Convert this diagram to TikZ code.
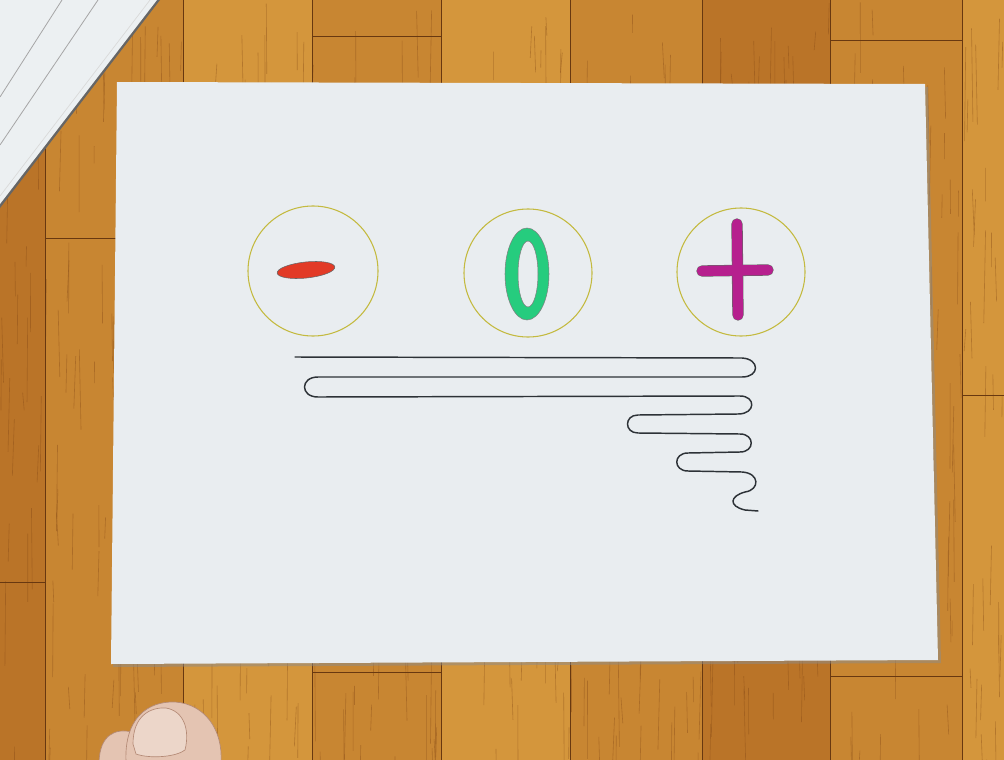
\documentclass[tikz,border=0pt]{standalone}
\usepackage{xcolor}
\definecolor{wood}{RGB}{200,134,50}
\definecolor{woodB}{RGB}{186,116,40}
\definecolor{woodC}{RGB}{212,150,60}
\definecolor{woodgrain}{RGB}{130,70,20}
\definecolor{paper}{RGB}{233,237,240}
\definecolor{sheet}{RGB}{236,240,242}
\definecolor{ringyellow}{RGB}{196,186,64}
\definecolor{minusred}{RGB}{226,58,38}
\definecolor{zerogreen}{RGB}{38,204,126}
\definecolor{plusmag}{RGB}{182,32,142}
\definecolor{pencil}{RGB}{45,50,55}
\definecolor{skin}{RGB}{228,196,178}
\definecolor{skinline}{RGB}{180,138,118}
\tikzset{
  seam/.style={draw=woodgrain!80!black, line width=0.6pt},
  grain/.style={draw=woodgrain, line width=0.45pt, opacity=0.4},
  ring/.style={draw=ringyellow, line width=0.8pt},
  pencil/.style={draw=pencil, line width=1.1pt, line cap=round, line join=round},
  crayon/.style={line cap=round, line width=#1},
}

\begin{document}
\begin{tikzpicture}[x=0.75pt,y=-0.75pt]
\useasboundingbox (0,0) rectangle (1004,760);
\clip (0,0) rectangle (1004,760);
% floor boards
\fill[wood] (0,0) rectangle (1004,760);
\foreach \xa/\xb/\tone in {0/45/woodB,183/312/woodC,441/570/woodC,702/830/woodB,962/1004/woodC}
  \fill[\tone] (\xa,0) rectangle (\xb,760);
\pgfmathsetseed{42}
\foreach \k in {1,...,600}{
  \pgfmathsetmacro{\gx}{rnd*1004}
  \pgfmathsetmacro{\gy}{rnd*760}
  \pgfmathsetmacro{\gl}{15+rnd*80}
  \draw[grain] (\gx,\gy) -- ++(rnd*4-2,\gl);
}
\foreach \sx in {45,183,312,441,570,702,830,962}
  \draw[seam] (\sx,0) -- (\sx,760);
\draw[seam] (312,36) -- (441,36);
\draw[seam] (830,40) -- (962,40);
\draw[seam] (45,238) -- (183,238);
\draw[seam] (0,582) -- (45,582);
\draw[seam] (962,395) -- (1004,395);
\draw[seam] (312,672) -- (441,672);
\draw[seam] (830,676) -- (962,676);

% sheets in the corner
\fill[black!60] (0,0) -- (160,0) -- (0,208) -- cycle;
\fill[sheet] (0,0) -- (157,0) -- (0,204) -- cycle;
\draw[black!35, line width=0.6pt] (0,97) -- (62,0);
\draw[black!35, line width=0.6pt] (0,145) -- (98,0);
\draw[black!15, line width=0.5pt] (0,196) -- (150,0);

% paper
\fill[black!45, opacity=0.5] (119,85) -- (928,87) -- (941,663) -- (113,667) -- cycle;
\fill[paper] (117,82) -- (925,84) -- (938,660) -- (111,664) -- cycle;

% circles
\coordinate (minus) at (313,271);
\coordinate (zero) at (528,273);
\coordinate (plus) at (741,272);
\draw[ring] (minus) circle [radius=65];
\draw[ring] (zero) circle [radius=64];
\draw[ring] (plus) circle [radius=64];

% minus
\filldraw[fill=minusred, draw=black!60, line width=0.4pt, rotate around={6:(306,270)}]
  (306,270) ellipse [x radius=29, y radius=8];
% zero
\filldraw[fill=zerogreen, draw=black!50, line width=0.4pt, even odd rule]
  (527,274) ellipse [x radius=22, y radius=46]
  (528,274) ellipse [x radius=10, y radius=33];
% plus
\draw[crayon=8.5pt, black!60] (737,224) -- (738,315);
\draw[crayon=8.5pt, black!60] (702,271) -- (768,270);
\draw[crayon=7.7pt, plusmag] (737,224) -- (738,315);
\draw[crayon=7.7pt, plusmag] (702,271) -- (768,270);

% meander
\draw[pencil] (295,357) -- (742,358)
  .. controls (760,359) and (760,377) .. (742,377)
  -- (318,377)
  .. controls (300,377) and (300,397) .. (318,397)
  -- (740,396)
  .. controls (756,396) and (756,414) .. (738,414)
  -- (638,415)
  .. controls (624,415) and (624,433) .. (638,433)
  -- (740,434)
  .. controls (755,434) and (755,452) .. (740,452)
  -- (688,453)
  .. controls (673,453) and (673,471) .. (688,471)
  -- (742,472)
  .. controls (760,473) and (760,490) .. (745,492)
  .. controls (730,496) and (728,506) .. (745,510)
  -- (758,511);

% toe
\filldraw[fill=skin, draw=skinline, line width=0.5pt]
  (99,762) .. controls (100,735) and (115,728) .. (132,732) -- (132,762) -- cycle;
\filldraw[fill=skin, draw=skinline, line width=0.5pt]
  (126,762) .. controls (124,718) and (148,701) .. (175,702)
  .. controls (205,704) and (223,730) .. (221,762) -- cycle;
\filldraw[fill=skin!70!white, draw=skinline, line width=0.5pt]
  (133,744) .. controls (133,716) and (150,707) .. (166,708)
  .. controls (184,711) and (190,730) .. (185,750)
  .. controls (176,757) and (150,759) .. (136,754) -- cycle;
\end{tikzpicture}
\end{document}
